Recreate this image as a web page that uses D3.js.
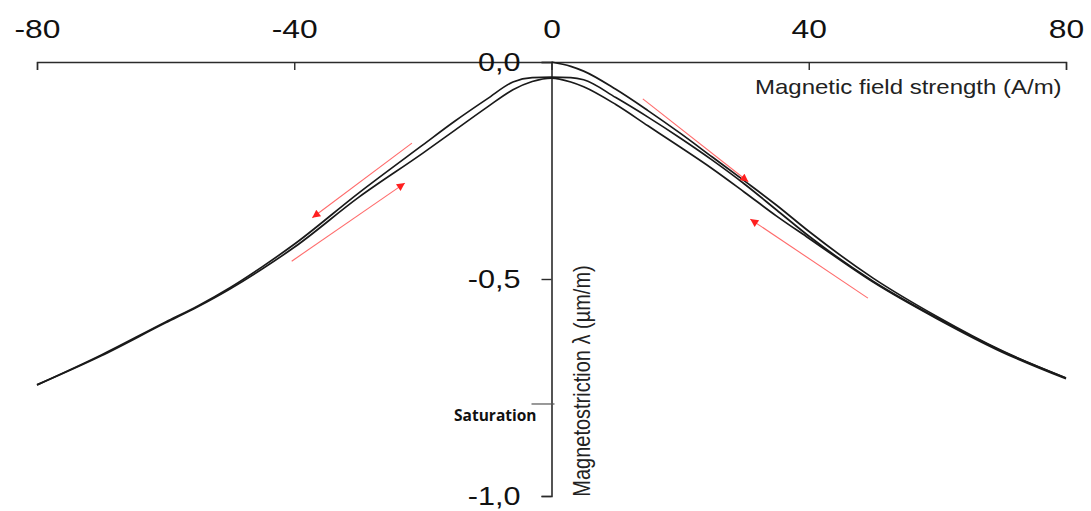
<!DOCTYPE html>
<html>
<head>
<meta charset="utf-8">
<script src="https://cdn.jsdelivr.net/npm/d3@7/dist/d3.min.js"></script>
<style>
  html, body { margin: 0; padding: 0; background: #fff; }
  svg { display: block; }
</style>
</head>
<body>
<svg id="chart" width="1091" height="511"></svg>
<script>
// ---------------- data ----------------
const xTicks = [-80, -40, 0, 40, 80];
const xTickLabels = ["-80", "-40", "0", "40", "80"];
const yTicks = [0, -0.5, -1];
const yTickLabels = ["0,0", "-0,5", "-1,0"];

// branch A: upper-left branch continuing as the middle right branch
const fieldA = [-80, -70, -60, -55, -50, -45, -40, -30, -20, -15, -10, -6, -3, 0, 3, 5, 10, 15, 20, 25, 30, 35, 40, 50, 60, 70, 80];
const lambdaA = [-0.744, -0.675, -0.599, -0.562, -0.520, -0.472, -0.420, -0.302, -0.191, -0.136, -0.085, -0.046, -0.036, -0.035,
                 -0.036, -0.041, -0.082, -0.127, -0.175, -0.226, -0.281, -0.341, -0.401, -0.505, -0.590, -0.666, -0.728];

// branch B: lower-left branch continuing as the lower right branch
const fieldB = [-80, -70, -60, -55, -50, -45, -40, -30, -20, -15, -10, -6, -3, 0, 3, 5, 10, 15, 20, 25, 30, 35, 40, 50, 60, 70, 80];
const lambdaB = [-0.744, -0.677, -0.601, -0.564, -0.523, -0.477, -0.427, -0.312, -0.210, -0.157, -0.104, -0.064, -0.045, -0.037,
                 -0.046, -0.057, -0.098, -0.147, -0.196, -0.246, -0.300, -0.355, -0.406, -0.507, -0.592, -0.668, -0.730];

// initial magnetisation curve (starts at 0,0)
const fieldC = [0, 3, 5, 10, 15, 20, 25, 30, 35, 40, 50, 60, 70, 80];
const lambdaC = [0.000, -0.010, -0.021, -0.063, -0.112, -0.164, -0.219, -0.274, -0.330, -0.390, -0.498, -0.587, -0.665, -0.728];

// red direction arrows: [H start, lambda start, H end, lambda end]
const arrows = [
  [-21.7, -0.187, -37.2, -0.359],
  [-40.4, -0.459, -22.8, -0.279],
  [14.2, -0.085, 30.6, -0.276],
  [49.2, -0.544, 30.9, -0.362]
];

const saturationLevel = -0.788;
const xTitle = "Magnetic field strength (A/m)";
const yTitle = "Magnetostriction \u03bb (\u00b5m/m)";
const saturationLabel = "Saturation";

// ---------------- drawing ----------------
const svg = d3.select("#chart");
const x = d3.scaleLinear().domain([-80, 80]).range([37, 1066]);
const y = d3.scaleLinear().domain([0, -1]).range([62, 496]);
const axisColor = "#2b2b2b";
const stretch = 1.2;

// defs for arrowheads
svg.append("defs").append("marker")
  .attr("id", "head")
  .attr("viewBox", "0 0 10 10")
  .attr("refX", 10).attr("refY", 5)
  .attr("markerWidth", 11).attr("markerHeight", 8)
  .attr("markerUnits", "userSpaceOnUse")
  .attr("orient", "auto")
  .append("path")
  .attr("d", "M0,0 L10,5 L0,10 Z")
  .attr("fill", "#ff1f1f");

// X axis (top)
const xAxis = d3.axisTop(x)
  .tickValues(xTicks)
  .tickFormat((d, i) => xTickLabels[i])
  .tickSizeInner(-8).tickSizeOuter(-8)
  .tickPadding(24);
const gx = svg.append("g").attr("transform", `translate(0,${y(0)})`).call(xAxis);
gx.select(".domain").attr("stroke", axisColor).attr("stroke-width", 1.4);
gx.selectAll(".tick line").attr("stroke", axisColor).attr("stroke-width", 1.4);
gx.selectAll(".tick text")
  .attr("font-family", "'Liberation Sans', Arial, sans-serif")
  .attr("font-size", 26.5)
  .attr("fill", "#111")
  .attr("transform", `scale(${stretch},1)`);

// Y axis (at H = 0)
const yAxis = d3.axisLeft(y)
  .tickValues(yTicks)
  .tickFormat((d, i) => yTickLabels[i])
  .tickSizeInner(10).tickSizeOuter(10)
  .tickPadding(0);
const gy = svg.append("g").attr("transform", `translate(${x(0)},0)`).call(yAxis);
gy.select(".domain").attr("stroke", axisColor).attr("stroke-width", 1.6);
gy.selectAll(".tick line").attr("stroke", axisColor).attr("stroke-width", 1.4);
gy.selectAll(".tick text")
  .attr("x", 0)
  .attr("font-family", "'Liberation Sans', Arial, sans-serif")
  .attr("font-size", 25.5)
  .attr("fill", "#111")
  .attr("text-anchor", "end")
  .attr("transform", `translate(-31,0) scale(${stretch},1)`);

// saturation marker
svg.append("line")
  .attr("x1", x(0) - 20).attr("x2", x(0) + 3)
  .attr("y1", y(saturationLevel)).attr("y2", y(saturationLevel))
  .attr("stroke", "#555").attr("stroke-width", 1.2);
svg.append("text")
  .attr("x", x(0) - 15).attr("y", y(saturationLevel) + 17)
  .attr("text-anchor", "end")
  .attr("font-family", "'Open Sans', 'DejaVu Sans', sans-serif")
  .attr("font-weight", "bold")
  .attr("font-size", 15.5)
  .attr("fill", "#111")
  .text(saturationLabel);

// axis titles
svg.append("text")
  .attr("transform", `translate(755,94) scale(${stretch},1)`)
  .attr("font-family", "'Liberation Sans', Arial, sans-serif")
  .attr("font-size", 20)
  .attr("fill", "#222")
  .text(xTitle);

svg.append("text")
  .attr("transform", `translate(${x(0) + 38},381) scale(${stretch},1) rotate(-90)`)
  .attr("text-anchor", "middle")
  .attr("font-family", "'Liberation Sans', Arial, sans-serif")
  .attr("font-size", 20)
  .attr("fill", "#222")
  .text(yTitle);

// curves
const line = d3.line()
  .x(d => x(d[0])).y(d => y(d[1]))
  .curve(d3.curveMonotoneX);

const series = [
  d3.zip(fieldA, lambdaA),
  d3.zip(fieldB, lambdaB),
  d3.zip(fieldC, lambdaC)
];
svg.append("g").selectAll("path")
  .data(series)
  .join("path")
  .attr("d", line)
  .attr("fill", "none")
  .attr("stroke", "#1a1a1a")
  .attr("stroke-width", 1.7)
  .attr("stroke-linejoin", "round");

// arrows
svg.append("g").selectAll("line")
  .data(arrows)
  .join("line")
  .attr("x1", d => x(d[0])).attr("y1", d => y(d[1]))
  .attr("x2", d => x(d[2])).attr("y2", d => y(d[3]))
  .attr("stroke", "#ff6b6b")
  .attr("stroke-width", 1.1)
  .attr("marker-end", "url(#head)");
</script>
</body>
</html>
